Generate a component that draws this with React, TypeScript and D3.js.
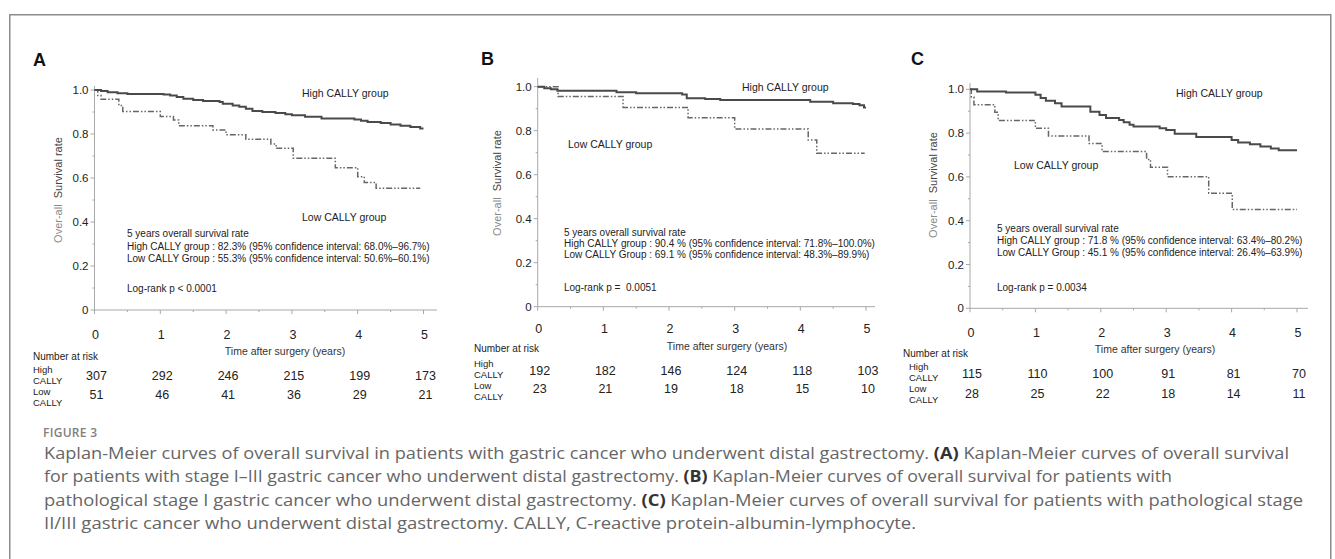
import React from "react";
import * as d3 from "d3";

// axis ticks
const timeTicks = [0, 1, 2, 3, 4, 5];
const timeMinor = [0.5, 1.5, 2.5, 3.5, 4.5];
const survTicks = [0, 0.2, 0.4, 0.6, 0.8, 1.0];
const survMinor = [0.1, 0.3, 0.5, 0.7, 0.9];

// panel A: stage I-III
const highATime = [0, 0.1, 0.2, 0.35, 0.5, 1.05, 1.15, 1.25, 1.35, 1.5, 1.65, 1.9, 1.95, 2.1, 2.2, 2.3, 2.4, 2.55, 2.75, 2.9, 3.0, 3.2, 3.45, 3.95, 4.05, 4.15, 4.35, 4.5, 4.65, 4.8, 4.95, 5.0];
const highASurv = [1, 0.995, 0.99, 0.985, 0.982, 0.98, 0.975, 0.968, 0.96, 0.955, 0.95, 0.945, 0.937, 0.93, 0.924, 0.915, 0.905, 0.9, 0.895, 0.89, 0.885, 0.878, 0.87, 0.866, 0.86, 0.855, 0.85, 0.843, 0.837, 0.832, 0.825, 0.825];
const lowATime = [0, 0.05, 0.1, 0.37, 0.43, 1.0, 1.2, 1.28, 1.8, 2.0, 2.3, 2.68, 2.76, 3.02, 3.66, 4.0, 4.1, 4.28, 4.95];
const lowASurv = [1, 0.975, 0.958, 0.93, 0.902, 0.879, 0.864, 0.838, 0.818, 0.797, 0.776, 0.755, 0.735, 0.69, 0.647, 0.606, 0.58, 0.553, 0.553];
const riskHighA = [307, 292, 246, 215, 199, 173];
const riskLowA = [51, 46, 41, 36, 29, 21];

// panel B: stage I
const highBTime = [0, 0.1, 0.2, 0.3, 1.2, 1.5, 2.2, 2.27, 2.55, 2.78, 4.15, 4.5, 4.8, 4.9, 4.97, 5.0];
const highBSurv = [1, 0.993, 0.988, 0.982, 0.975, 0.97, 0.965, 0.948, 0.944, 0.94, 0.932, 0.925, 0.921, 0.916, 0.906, 0.906];
const lowBTime = [0, 0.31, 1.3, 2.29, 3.0, 4.12, 4.25, 4.98];
const lowBSurv = [1, 0.955, 0.906, 0.859, 0.808, 0.758, 0.697, 0.697];
const riskHighB = [192, 182, 146, 124, 118, 103];
const riskLowB = [23, 21, 19, 18, 15, 10];

// panel C: stage II/III
const highCTime = [0, 0.11, 0.55, 1.0, 1.08, 1.16, 1.3, 1.4, 1.84, 1.98, 2.08, 2.28, 2.35, 2.44, 2.5, 2.9, 3.0, 3.13, 3.46, 4.0, 4.1, 4.28, 4.44, 4.6, 4.72, 5.0];
const highCSurv = [1, 0.99, 0.985, 0.975, 0.96, 0.948, 0.936, 0.922, 0.898, 0.883, 0.869, 0.86, 0.849, 0.838, 0.83, 0.822, 0.814, 0.797, 0.782, 0.769, 0.757, 0.749, 0.739, 0.73, 0.722, 0.722];
const lowCTime = [0, 0.02, 0.06, 0.38, 0.43, 1.0, 1.2, 1.82, 2.02, 2.7, 2.76, 3.02, 3.65, 4.01, 5.0];
const lowCSurv = [1, 0.965, 0.93, 0.895, 0.858, 0.822, 0.787, 0.752, 0.716, 0.68, 0.644, 0.601, 0.525, 0.451, 0.451];
const riskHighC = [115, 110, 100, 91, 81, 70];
const riskLowC = [28, 25, 22, 18, 14, 11];

const statsA = [
  "5 years overall survival rate",
  "High CALLY group : 82.3% (95% confidence interval: 68.0%\u201396.7%)",
  "Low CALLY Group : 55.3% (95% confidence interval: 50.6%\u201360.1%)",
];
const statsB = [
  "5 years overall survival rate",
  "High CALLY group : 90.4 % (95% confidence interval: 71.8%\u2013100.0%)",
  "Low CALLY Group : 69.1 % (95% confidence interval: 48.3%\u201389.9%)",
];
const statsC = [
  "5 years overall survival rate",
  "High CALLY group : 71.8 % (95% confidence interval: 63.4%\u201380.2%)",
  "Low CALLY Group : 45.1 % (95% confidence interval: 26.4%\u201363.9%)",
];

const FONT = "'Liberation Sans', Arial, sans-serif";
const CAPFONT = "'Open Sans', sans-serif";

const panels = [
  {
    letter: "A", high: [highATime, highASurv], low: [lowATime, lowASurv], riskHigh: riskHighA, riskLow: riskLowA,
    stats: statsA, logRank: "Log-rank p < 0.0001",
    x0: 94.5, x5: 423.5, yTop: 90, yBot: 310, axisEnd: 437, axisTop: 86,
    letterPos: [33, 66], highPos: [302, 93], lowPos: [302, 217], statsX: 127, statsY: [233, 246, 258], logY: 288,
    tickY: 335, titlePos: [285, 351], narPos: [33, 356], rowX: 33, highRow: [369, 380, 376], lowRow: [391, 402, 395], yTitle: [58, 190],
  },
  {
    letter: "B", high: [highBTime, highBSurv], low: [lowBTime, lowBSurv], riskHigh: riskHighB, riskLow: riskLowB,
    stats: statsB, logRank: "Log-rank p =  0.0051",
    x0: 537.7, x5: 866, yTop: 86.7, yBot: 306.7, axisEnd: 875, axisTop: 78,
    letterPos: [481, 65], highPos: [742, 87], lowPos: [568, 144], statsX: 564, statsY: [232, 243, 254], logY: 287,
    tickY: 329, titlePos: [727, 346], narPos: [474, 348], rowX: 474, highRow: [363, 374, 371], lowRow: [385, 396, 389], yTitle: [497, 183],
  },
  {
    letter: "C", high: [highCTime, highCSurv], low: [lowCTime, lowCSurv], riskHigh: riskHighC, riskLow: riskLowC,
    stats: statsC, logRank: "Log-rank p = 0.0034",
    x0: 970, x5: 1297, yTop: 89.3, yBot: 308.3, axisEnd: 1308, axisTop: 83,
    letterPos: [911, 65], highPos: [1176, 93], lowPos: [1014, 165], statsX: 997, statsY: [228, 240, 252], logY: 287,
    tickY: 333, titlePos: [1155, 349], narPos: [903, 353], rowX: 909, highRow: [366, 377, 374], lowRow: [388, 399, 394], yTitle: [933, 185],
  },
];

const captionWidths = [1245, 1128, 1259, 872];
const captionLines: { text: string; bold?: boolean }[][] = [
  [
    { text: "Kaplan-Meier curves of overall survival in patients with gastric cancer who underwent distal gastrectomy. " },
    { text: "(A)", bold: true },
    { text: " Kaplan-Meier curves of overall survival" },
  ],
  [
    { text: "for patients with stage I\u2013III gastric cancer who underwent distal gastrectomy. " },
    { text: "(B)", bold: true },
    { text: " Kaplan-Meier curves of overall survival for patients with" },
  ],
  [
    { text: "pathological stage I gastric cancer who underwent distal gastrectomy. " },
    { text: "(C)", bold: true },
    { text: " Kaplan-Meier curves of overall survival for patients with pathological stage" },
  ],
  [{ text: "II/III gastric cancer who underwent distal gastrectomy. CALLY, C-reactive protein-albumin-lymphocyte." }],
];

function Panel({ p }: { p: (typeof panels)[number] }) {
  const x = d3.scaleLinear().domain([0, 5]).range([p.x0, p.x5]);
  const y = d3.scaleLinear().domain([0, 1]).range([p.yBot, p.yTop]);
  // Kaplan-Meier step path from paired time / survival arrays
  const path = (t: number[], s: number[]) =>
    d3
      .line<number>()
      .x((_, i) => x(t[i]))
      .y((v) => y(v))
      .curve(d3.curveStepAfter)(s) || "";
  const axisColor = "#a8a8a8";
  return (
    <g fontFamily={FONT}>
      <text x={p.letterPos[0]} y={p.letterPos[1]} fontSize={18} fontWeight="bold" fill="#111">
        {p.letter}
      </text>
      {/* axes */}
      <line x1={p.x0} x2={p.x0} y1={p.axisTop} y2={p.yBot} stroke={axisColor} />
      <line x1={p.x0} x2={p.axisEnd} y1={p.yBot} y2={p.yBot} stroke={axisColor} />
      {survTicks.map((v) => (
        <g key={"ys" + v}>
          <line x1={p.x0 - 4} x2={p.x0} y1={y(v)} y2={y(v)} stroke={axisColor} />
          <text x={p.x0 - 6} y={y(v)} fontSize={11.5} textAnchor="end" dominantBaseline="central" fill="#222">
            {v === 0 ? "0" : d3.format(".1f")(v)}
          </text>
        </g>
      ))}
      {survMinor.map((v) => (
        <line key={"ym" + v} x1={p.x0 - 2} x2={p.x0} y1={y(v)} y2={y(v)} stroke={axisColor} />
      ))}
      {timeTicks.map((t) => (
        <g key={"xt" + t}>
          <line x1={x(t)} x2={x(t)} y1={p.yBot} y2={p.yBot + 4} stroke={axisColor} />
          <text x={x(t) + 1} y={p.tickY} fontSize={12.5} textAnchor="middle" dominantBaseline="central" fill="#222">
            {t}
          </text>
        </g>
      ))}
      {timeMinor.map((t) => (
        <line key={"xm" + t} x1={x(t)} x2={x(t)} y1={p.yBot} y2={p.yBot + 2} stroke={axisColor} />
      ))}
      <text
        transform={`translate(${p.yTitle[0]},${p.yTitle[1]}) rotate(-90)`}
        fontSize={11}
        textAnchor="middle"
        dominantBaseline="central"
        style={{ whiteSpace: "pre" }}
      >
        <tspan fill="#8a8a8a">Over-all</tspan>
        <tspan fill="#444">{"  Survival rate"}</tspan>
      </text>
      <text x={p.titlePos[0]} y={p.titlePos[1]} fontSize={10.5} textAnchor="middle" dominantBaseline="central" fill="#333">
        Time after surgery (years)
      </text>
      {/* curves */}
      <path d={path(p.low[0], p.low[1])} fill="none" stroke="#666" strokeWidth={1.5} strokeDasharray="6,2,1.5,2,1.5,2" />
      <path d={path(p.high[0], p.high[1])} fill="none" stroke="#4a4a4a" strokeWidth={2} />
      {/* annotations */}
      <text x={p.highPos[0]} y={p.highPos[1]} fontSize={10.5} dominantBaseline="central" fill="#222">
        High CALLY group
      </text>
      <text x={p.lowPos[0]} y={p.lowPos[1]} fontSize={10.5} dominantBaseline="central" fill="#222">
        Low CALLY group
      </text>
      {p.stats.map((s, i) => (
        <text key={"st" + i} x={p.statsX} y={p.statsY[i]} fontSize={10} dominantBaseline="central" fill="#222">
          {s}
        </text>
      ))}
      <text x={p.statsX} y={p.logY} fontSize={10} dominantBaseline="central" fill="#222" style={{ whiteSpace: "pre" }}>
        {p.logRank}
      </text>
      {/* number at risk */}
      <text x={p.narPos[0]} y={p.narPos[1]} fontSize={10} dominantBaseline="central" fill="#222">
        Number at risk
      </text>
      <text x={p.rowX} y={p.highRow[0]} fontSize={9.5} dominantBaseline="central" fill="#222">High</text>
      <text x={p.rowX} y={p.highRow[1]} fontSize={9.5} dominantBaseline="central" fill="#222">CALLY</text>
      <text x={p.rowX} y={p.lowRow[0]} fontSize={9.5} dominantBaseline="central" fill="#222">Low</text>
      <text x={p.rowX} y={p.lowRow[1]} fontSize={9.5} dominantBaseline="central" fill="#222">CALLY</text>
      {p.riskHigh.map((n, i) => (
        <text key={"rh" + i} x={x(timeTicks[i]) + 2} y={p.highRow[2]} fontSize={12.5} textAnchor="middle" dominantBaseline="central" fill="#222">
          {n}
        </text>
      ))}
      {p.riskLow.map((n, i) => (
        <text key={"rl" + i} x={x(timeTicks[i]) + 2} y={p.lowRow[2]} fontSize={12.5} textAnchor="middle" dominantBaseline="central" fill="#222">
          {n}
        </text>
      ))}
    </g>
  );
}

export default function App() {
  return (
    <svg
      width={1335}
      height={559}
      style={{ position: "absolute", left: 0, top: 0, background: "#fff" }}
    >
      <rect x={0} y={0} width={1335} height={559} fill="#fff" />
      <rect x={9.75} y={14.75} width={1321} height={600} fill="none" stroke="#8c8c8c" strokeWidth={1.5} />
      {panels.map((p) => (
        <Panel key={p.letter} p={p} />
      ))}
      <text x={43} y={437} fontFamily={CAPFONT} fontSize={12} fontWeight={600} fill="#808080" letterSpacing={0.3}>
        FIGURE 3
      </text>
      {captionLines.map((ln, i) => (
        <text
          key={"cap" + i}
          x={44}
          y={458.5 + i * 23.5}
          fontFamily={CAPFONT}
          fontSize={16.5}
          fill="#666"
          textLength={captionWidths[i]}
          lengthAdjust="spacingAndGlyphs"
        >
          {ln.map((seg, j) => (
            <tspan key={j} fontWeight={seg.bold ? 700 : 400} fill={seg.bold ? "#333" : undefined}>
              {seg.text}
            </tspan>
          ))}
        </text>
      ))}
    </svg>
  );
}
